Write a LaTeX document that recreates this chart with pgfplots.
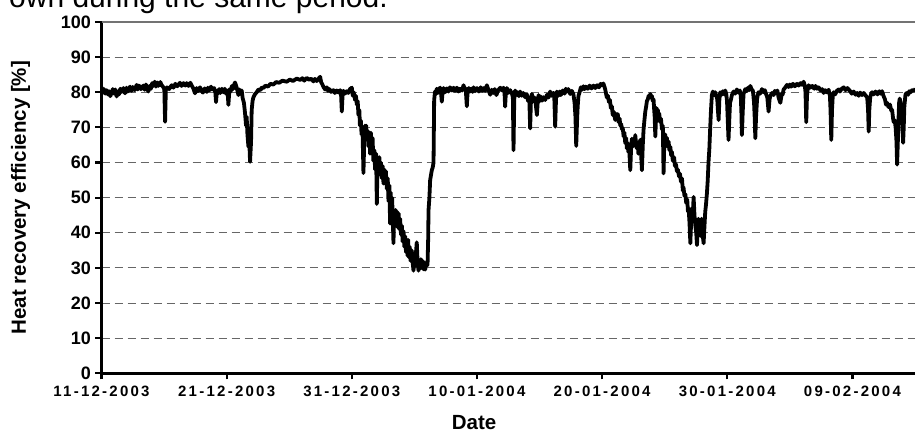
\documentclass[border=0pt]{standalone}
\usepackage{fontspec}
\setmainfont{Liberation Sans}
\newfontfamily\xtfont[LetterSpace=15]{Liberation Sans}
\usepackage{pgfplots}
\usepackage{pgfplotstable}
\pgfplotsset{compat=1.18}
\pgfplotstableread{
day val
0.00 81.5
0.10 79.8
0.20 80.9
0.30 79.6
0.41 80.6
0.50 79.4
0.60 80.3
0.70 78.9
0.81 79.8
0.90 80.9
1.00 79.6
1.10 80.8
1.21 78.8
1.30 80.2
1.40 79.4
1.50 81.0
1.61 80.1
1.75 81.2
1.88 79.7
2.00 81.3
2.10 80.2
2.28 81.6
2.40 80.4
2.50 81.5
2.65 80.6
2.81 82.1
2.90 80.8
3.00 81.9
3.15 80.9
3.34 81.9
3.45 80.7
3.55 82.2
3.74 80.2
3.85 81.8
3.95 81.0
4.05 82.6
4.14 81.8
4.25 83.0
4.35 81.6
4.45 82.8
4.54 81.8
4.70 82.9
4.81 82.0
4.95 81.4
5.02 80.8
5.08 71.6
5.14 80.6
5.24 81.4
5.40 80.9
5.61 82.0
5.75 81.3
5.90 82.4
6.05 81.7
6.27 82.7
6.40 81.8
6.55 82.6
6.70 81.9
6.81 82.6
6.95 81.8
7.10 82.7
7.21 81.9
7.35 81.0
7.47 79.7
7.60 81.2
7.70 80.3
7.87 81.4
8.00 80.4
8.10 79.9
8.25 81.1
8.41 80.1
8.50 81.3
8.60 80.5
8.75 81.6
8.81 80.8
9.00 81.2
9.10 79.8
9.15 77.2
9.22 80.4
9.30 79.6
9.40 80.9
9.50 79.8
9.62 81.0
9.74 80.0
9.85 81.0
9.95 79.6
10.07 80.5
10.14 76.4
10.22 80.8
10.32 80.2
10.42 81.8
10.50 80.9
10.60 82.2
10.67 82.8
10.78 81.6
10.94 79.2
11.02 80.8
11.10 79.7
11.20 80.5
11.28 78.3
11.38 77.0
11.47 74.0
11.55 70.5
11.60 73.0
11.66 68.0
11.74 64.5
11.80 67.0
11.87 60.2
11.95 66.0
12.00 75.0
12.07 77.5
12.14 78.6
12.25 79.4
12.40 80.0
12.55 80.8
12.70 80.6
12.82 81.4
12.94 81.2
13.10 81.9
13.30 81.6
13.50 82.4
13.74 82.2
13.95 82.9
14.20 82.7
14.45 83.3
14.80 83.0
15.05 83.6
15.30 83.2
15.60 83.9
15.87 83.5
16.05 84.0
16.20 83.3
16.40 84.1
16.60 83.5
16.75 83.9
16.93 83.1
17.05 83.8
17.20 83.2
17.35 83.9
17.47 84.4
17.55 82.9
17.65 82.2
17.75 81.4
17.87 80.8
18.00 81.4
18.10 80.4
18.20 80.9
18.35 80.1
18.53 80.6
18.65 79.8
18.80 80.5
18.95 79.9
19.07 80.6
19.14 79.5
19.20 74.5
19.27 79.8
19.33 80.4
19.45 79.6
19.60 80.3
19.72 79.8
19.85 80.9
20.00 81.3
20.08 79.0
20.15 80.0
20.26 77.8
20.33 79.0
20.40 76.5
20.47 77.5
20.53 73.5
20.60 75.0
20.65 70.5
20.72 72.0
20.78 68.0
20.85 70.0
20.93 57.0
21.00 67.0
21.05 70.5
21.10 67.5
21.15 70.5
21.20 66.8
21.28 69.0
21.35 64.5
21.42 67.5
21.46 62.5
21.52 68.5
21.60 64.0
21.66 67.0
21.72 60.5
21.80 63.5
21.86 58.0
21.94 62.5
22.00 48.2
22.06 61.0
22.13 57.5
22.20 61.5
22.26 56.5
22.33 60.0
22.40 55.5
22.47 59.0
22.53 54.0
22.60 58.0
22.65 54.5
22.72 57.5
22.80 52.5
22.87 55.5
22.93 49.0
23.00 53.5
23.06 42.6
23.10 51.5
23.16 46.5
23.22 50.0
23.27 44.5
23.33 37.0
23.38 46.0
23.44 42.5
23.50 46.5
23.56 42.0
23.62 46.0
23.68 41.5
23.74 45.5
23.80 41.0
23.86 44.0
23.93 39.5
24.00 42.0
24.06 37.5
24.13 40.5
24.20 36.0
24.27 39.0
24.33 34.5
24.39 37.5
24.45 33.5
24.50 38.0
24.56 33.0
24.62 36.0
24.70 32.0
24.79 35.0
24.86 31.5
24.93 29.2
25.00 33.0
25.06 30.5
25.12 34.0
25.19 37.3
25.26 31.5
25.33 29.2
25.40 32.0
25.45 29.8
25.52 32.5
25.59 30.0
25.66 32.0
25.72 29.6
25.80 31.5
25.86 29.5
25.95 31.5
26.05 30.8
26.10 38.0
26.13 46.4
26.20 50.0
26.26 55.0
26.33 56.5
26.39 57.8
26.46 58.5
26.53 60.0
26.58 77.8
26.65 80.2
26.72 79.5
26.79 81.0
26.88 79.8
26.95 80.8
27.06 81.3
27.13 79.8
27.19 77.3
27.26 80.3
27.33 81.2
27.45 80.0
27.60 81.1
27.72 80.2
27.85 81.4
28.00 80.5
28.13 81.3
28.25 80.4
28.40 81.3
28.52 80.2
28.65 81.0
28.80 80.5
28.93 82.0
29.03 80.6
29.10 81.1
29.19 76.0
29.26 80.5
29.35 81.2
29.45 80.2
29.55 81.0
29.65 80.1
29.73 81.4
29.85 80.3
30.00 81.2
30.15 80.2
30.30 81.4
30.42 80.4
30.55 81.2
30.66 80.4
30.79 82.0
30.92 80.6
31.06 79.3
31.18 80.7
31.30 79.8
31.42 80.9
31.55 79.2
31.70 80.6
31.86 81.3
32.00 80.5
32.12 81.3
32.20 80.0
32.25 75.9
32.31 80.0
32.39 81.2
32.50 79.8
32.65 80.6
32.80 79.6
32.87 78.5
32.92 63.5
32.98 78.0
33.05 80.5
33.15 79.2
33.25 80.0
33.35 78.9
33.45 80.2
33.58 79.0
33.70 79.8
33.85 78.6
33.98 79.5
34.08 77.5
34.18 78.5
34.25 69.7
34.32 78.5
34.39 79.5
34.50 77.5
34.60 78.5
34.70 76.5
34.79 73.5
34.86 77.5
34.92 79.2
35.02 77.5
35.10 78.8
35.20 77.6
35.32 78.6
35.45 77.8
35.60 79.3
35.72 78.5
35.85 80.2
35.98 79.0
36.10 79.8
36.18 78.5
36.25 70.2
36.32 78.5
36.38 80.2
36.50 79.0
36.60 80.2
36.70 79.2
36.85 80.5
37.00 79.6
37.10 81.0
37.18 80.2
37.30 80.9
37.45 79.5
37.58 80.4
37.71 79.4
37.80 77.0
37.87 73.0
37.93 64.7
38.00 72.0
38.05 76.0
38.11 79.0
38.20 80.0
38.30 81.4
38.38 80.7
38.50 81.7
38.60 80.9
38.70 81.6
38.85 81.0
39.00 81.9
39.15 81.1
39.31 81.9
39.45 81.2
39.60 82.0
39.75 81.4
39.88 82.4
39.98 82.0
40.10 82.5
40.20 81.4
40.25 80.8
40.32 79.5
40.38 78.5
40.46 79.0
40.55 77.2
40.62 77.8
40.70 75.5
40.78 76.0
40.85 73.5
40.92 74.5
41.05 72.1
41.12 73.8
41.18 72.5
41.25 73.8
41.32 71.5
41.40 72.5
41.45 70.5
41.52 71.0
41.58 69.5
41.65 69.8
41.72 67.4
41.78 68.5
41.85 65.5
41.92 67.0
41.98 64.0
42.05 65.5
42.10 63.0
42.17 63.5
42.25 57.8
42.32 64.5
42.38 66.8
42.45 64.5
42.52 66.5
42.58 65.0
42.65 67.8
42.72 65.0
42.78 64.0
42.85 65.5
42.90 62.5
42.96 66.0
43.00 64.5
43.06 66.5
43.10 63.5
43.18 57.8
43.25 65.0
43.31 69.3
43.38 72.0
43.45 74.5
43.52 76.0
43.58 77.5
43.65 78.0
43.72 79.0
43.80 78.5
43.85 79.5
43.92 78.6
43.98 78.9
44.05 77.5
44.11 78.0
44.16 75.0
44.20 73.0
44.25 67.4
44.30 72.0
44.35 75.5
44.40 74.0
44.45 75.0
44.50 73.0
44.56 74.0
44.64 71.5
44.70 72.5
44.78 69.5
44.85 70.5
44.91 56.9
44.97 66.0
45.04 68.0
45.10 66.0
45.18 67.0
45.24 64.5
45.31 66.0
45.38 63.5
45.45 64.5
45.52 62.0
45.58 63.0
45.65 60.5
45.75 61.5
45.82 59.0
45.90 59.5
45.98 57.5
46.05 58.0
46.15 56.0
46.22 56.8
46.30 54.5
46.38 55.5
46.45 52.0
46.50 53.0
46.58 50.5
46.65 51.0
46.72 48.5
46.80 49.5
46.86 46.0
46.91 47.0
46.98 43.0
47.05 37.0
47.12 44.0
47.18 47.0
47.24 44.5
47.31 50.2
47.38 45.0
47.45 42.0
47.52 40.0
47.58 36.5
47.64 41.0
47.70 44.0
47.77 40.5
47.84 42.5
47.90 39.0
47.95 44.0
48.02 40.0
48.11 37.0
48.18 42.0
48.24 46.0
48.30 48.0
48.37 51.0
48.44 55.0
48.50 60.0
48.57 64.0
48.64 70.2
48.70 75.0
48.77 79.2
48.85 80.2
48.95 79.2
49.04 80.0
49.12 79.0
49.20 78.0
49.25 75.0
49.31 72.1
49.37 78.0
49.44 80.0
49.55 79.3
49.65 80.3
49.75 79.4
49.84 80.5
49.92 79.5
49.98 77.5
50.04 72.0
50.10 66.4
50.16 72.0
50.22 77.0
50.30 78.0
50.37 79.2
50.50 80.2
50.62 79.6
50.77 80.8
50.88 79.9
51.00 80.5
51.08 79.0
51.13 74.0
51.17 67.8
51.23 74.0
51.30 79.5
51.37 80.2
51.44 80.9
51.55 80.3
51.66 81.3
51.75 80.6
51.84 81.8
51.95 80.8
52.05 80.4
52.14 77.0
52.20 72.0
52.24 66.9
52.30 73.0
52.38 78.0
52.44 79.3
52.50 80.0
52.62 79.6
52.77 80.9
52.90 80.0
53.00 80.6
53.10 79.5
53.20 78.5
53.30 74.5
53.38 78.0
53.45 79.0
53.57 79.8
53.70 79.2
53.80 80.4
53.90 79.7
54.00 80.5
54.10 78.5
54.24 77.0
54.35 79.5
54.42 79.3
54.50 80.8
54.62 81.3
54.77 82.1
54.90 81.5
55.00 82.2
55.10 81.6
55.25 82.4
55.40 81.7
55.57 82.4
55.70 81.9
55.85 82.6
55.98 82.1
56.10 83.0
56.20 81.8
56.25 80.0
56.31 71.5
56.37 79.0
56.43 81.0
56.50 82.0
56.62 81.3
56.80 81.8
56.95 81.0
57.05 81.8
57.17 81.0
57.30 81.4
57.45 80.5
57.58 80.9
57.70 79.8
57.82 80.6
57.95 80.0
58.10 80.7
58.20 79.0
58.25 75.0
58.31 66.4
58.37 75.0
58.43 79.0
58.50 80.0
58.62 79.4
58.75 80.4
58.90 80.8
59.00 80.2
59.15 81.0
59.30 81.4
59.45 80.6
59.60 81.2
59.80 80.4
59.95 79.6
60.10 80.2
60.25 79.3
60.37 79.8
60.50 79.0
60.62 79.9
60.77 79.2
60.90 79.8
61.05 79.1
61.18 78.5
61.25 75.0
61.30 68.8
61.35 75.0
61.42 78.5
61.50 79.6
61.57 80.0
61.70 79.4
61.85 80.2
62.00 79.4
62.15 80.3
62.25 79.6
62.37 80.3
62.48 79.0
62.60 78.0
62.68 76.5
62.77 77.0
62.88 75.8
63.00 76.5
63.10 74.8
63.17 75.0
63.25 72.5
63.30 71.5
63.38 72.0
63.45 70.0
63.52 66.0
63.57 59.4
63.63 66.0
63.68 72.0
63.73 77.0
63.78 78.2
63.85 77.0
63.92 76.0
63.98 72.0
64.05 65.6
64.10 70.0
64.15 76.0
64.24 79.4
64.35 79.8
64.45 79.3
64.55 80.3
64.64 80.0
64.80 80.7
64.92 80.4
65.04 81.0
}\effdata
\begin{document}
\begin{tikzpicture}[x=1pt,y=1pt]
\useasboundingbox (0,0) rectangle (915,436);
\node[anchor=base west, inner sep=0pt, font=\fontsize{30}{36}\selectfont] at (9,428.5) {own during the same period.};
\begin{axis}[
  at={(101.5pt,62.7pt)}, anchor=south west,
  scale only axis, width=813.5pt, height=351.3pt,
  xmin=0, xmax=65, ymin=0, ymax=100,
  axis x line=bottom, axis y line=left,
  x axis line style={-}, y axis line style={-},
  axis line style={black, line width=2.8pt},
  xtick={0,10,...,60},
  xticklabels={11-12-2003,21-12-2003,31-12-2003,10-01-2004,20-01-2004,30-01-2004,09-02-2004},
  ytick={0,10,...,100},
  tick align=outside, major tick length=6pt,
  tick style={black, line width=2.2pt},
  ymajorgrids,
  grid style={dash pattern=on 8pt off 5pt, color=black!60, line width=1pt},
  /pgf/number format/assume math mode=true,
  y tick label style={font=\bfseries\fontsize{18}{21}\selectfont, xshift=-1pt},
  x tick label style={font=\xtfont\bfseries\fontsize{15}{17}\selectfont, yshift=-3pt},
  xlabel={Date}, ylabel={Heat recovery efficiency [\%]},
  label style={font=\bfseries\fontsize{20.5}{24}\selectfont, inner sep=0pt},
  xlabel style={at={(axis description cs:0.458,-0.141)}, anchor=center},
  ylabel style={at={(axis description cs:-0.0995,0.5)}, anchor=center},
  clip=true,
]
\draw[black!55, line width=1.2pt] (axis cs:0,100) -- (axis cs:65,100);
\addplot[black, line width=3.8pt, line join=round] table[x=day, y=val] {\effdata};
\end{axis}
\end{tikzpicture}
\end{document}
